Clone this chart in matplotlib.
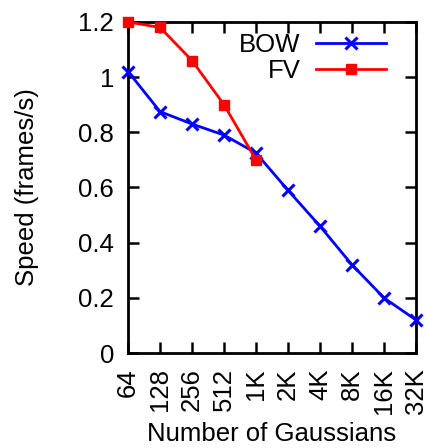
import numpy as np
import matplotlib
matplotlib.use("Agg")
import matplotlib.pyplot as plt

plt.rcParams['font.family'] = ['Liberation Sans', 'DejaVu Sans']

# Data
gauss_labels = ["64", "128", "256", "512", "1K", "2K", "4K", "8K", "16K", "32K"]
bow_speed = [1.02, 0.875, 0.83, 0.79, 0.725, 0.59, 0.46, 0.32, 0.20, 0.12]
fv_speed = [1.2, 1.18, 1.06, 0.90, 0.70]

x_bow = np.arange(len(bow_speed))
x_fv = np.arange(len(fv_speed))

fs = 18.5

fig = plt.figure(figsize=(4.27, 4.48), dpi=100)
ax = fig.add_axes([0.30, 0.212, 0.674, 0.739])

ax.plot(x_bow, bow_speed, color='#0000ff', lw=2, marker='x', ms=8, mew=2.2,
        label='BOW', clip_on=False, zorder=3)
ax.plot(x_fv, fv_speed, color='#ff0000', lw=2, marker='s', ms=7,
        label='FV', clip_on=False, zorder=4)

ax.set_xlim(0, len(gauss_labels) - 1)
ax.set_ylim(0, 1.2)
ax.set_xticks(x_bow)
ax.set_xticklabels(gauss_labels, rotation=90, fontsize=fs)
ax.set_yticks([0, 0.2, 0.4, 0.6, 0.8, 1.0, 1.2])
ax.set_yticklabels(["0", "0.2", "0.4", "0.6", "0.8", "1", "1.2"], fontsize=fs)
ax.tick_params(direction='in', length=8, width=1.8, top=True, right=True)
ax.tick_params(axis='x', pad=11)
ax.tick_params(axis='y', pad=10)
for s in ax.spines.values():
    s.set_linewidth(2)

ax.set_xlabel("Number of Gaussians", fontsize=fs, labelpad=6)
ax.set_ylabel("Speed (frames/s)", fontsize=fs, labelpad=28)

ax.legend(loc='upper right', frameon=False, markerfirst=False, fontsize=fs,
          handlelength=2.7, handletextpad=0.6, labelspacing=0.05,
          borderaxespad=0.2, bbox_to_anchor=(0.948, 1.012))

fig.savefig("out.png", dpi=100)
